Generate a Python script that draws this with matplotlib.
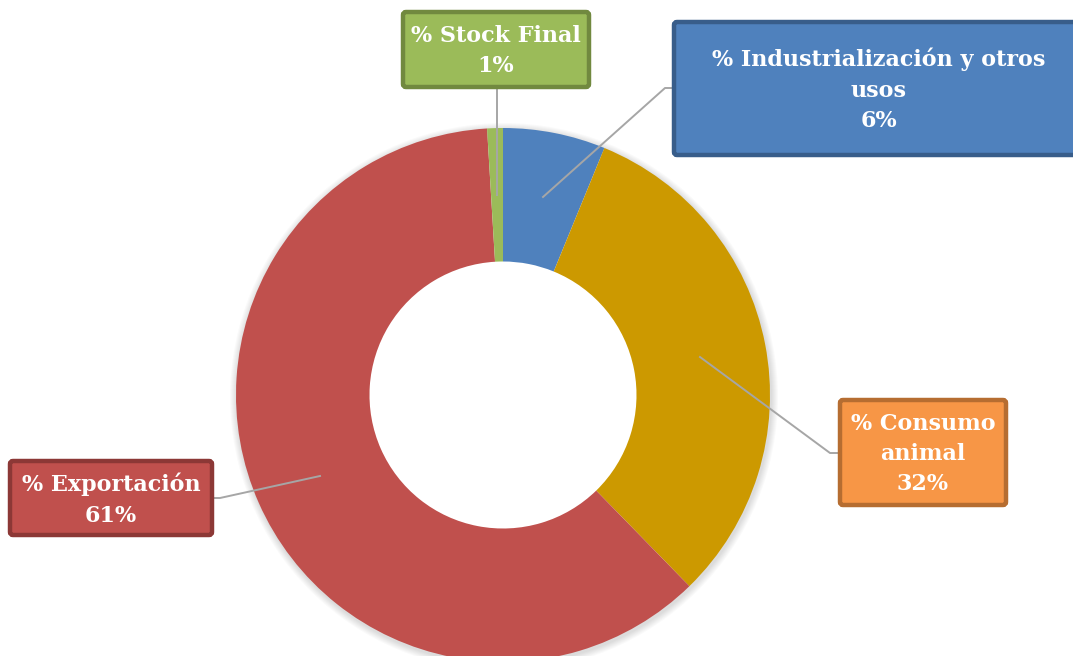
import matplotlib.pyplot as plt
from matplotlib.patches import Wedge, FancyBboxPatch

labels = ['% Industrialización y otros\nusos\n6%', '% Consumo\nanimal\n32%',
          '% Exportación\n61%', '% Stock Final\n1%']
values = [6.2, 31.5, 61.35, 0.95]
colors = ['#4F81BD', '#CC9900', '#C0504D', '#9BBB59']
box_faces = ['#4F81BD', '#F79646', '#C0504D', '#9BBB59']
box_edges = ['#385D8A', '#B66D31', '#8C3836', '#71893F']

W, H = 1073, 656
fig = plt.figure(figsize=(W / 100, H / 100), dpi=100)
ax = fig.add_axes([0, 0, 1, 1])


def py(y):
    # pixel row (from top) to data y
    return H - y


cx, cy, r = 503, py(395), 267

# soft shadow round the ring
for k in range(7):
    ax.add_patch(Wedge((cx + 1, cy - 2), r + 7 - k, 0, 360, width=12,
                       color='black', alpha=0.02, lw=0, zorder=0))

ax.pie(values, colors=colors, startangle=90, counterclock=False, center=(cx, cy),
       radius=r, wedgeprops=dict(width=r * 0.5, linewidth=0, zorder=1), frame=True)
ax.set_xlim(0, W)
ax.set_ylim(0, H)
ax.set_aspect('equal')
ax.axis('off')

# label boxes: (left, top, right, bottom), text centre x, line points
boxes = [
    ((674, 22, 1085, 155), 879, [(674, 88), (665, 88), (543, 197)]),
    ((840, 400, 1006, 505), 923, [(840, 453), (830, 453), (700, 357)]),
    ((10, 461, 212, 535), 111, [(212, 498), (220, 498), (320, 476)]),
    ((403, 12, 589, 87), 496, [(497, 87), (497, 195)]),
]

for lab, fc, ec, ((x0, y0, x1, y1), tx, pts) in zip(labels, box_faces, box_edges, boxes):
    xs = [p[0] for p in pts]
    ys = [py(p[1]) for p in pts]
    ax.plot(xs, ys, color='#A6A6A6', lw=1.4, zorder=6)
    ax.add_patch(FancyBboxPatch((x0, py(y1)), x1 - x0, y1 - y0,
                                boxstyle='round,pad=0,rounding_size=3',
                                fc=fc, ec=ec, lw=3.2, zorder=7))
    ax.text(tx, py((y0 + y1) / 2 + 1.5), lab, ha='center', va='center', color='white',
            fontsize=16, fontweight='bold', family='DejaVu Serif',
            linespacing=1.5, zorder=8)

fig.savefig('out.png', dpi=100)
